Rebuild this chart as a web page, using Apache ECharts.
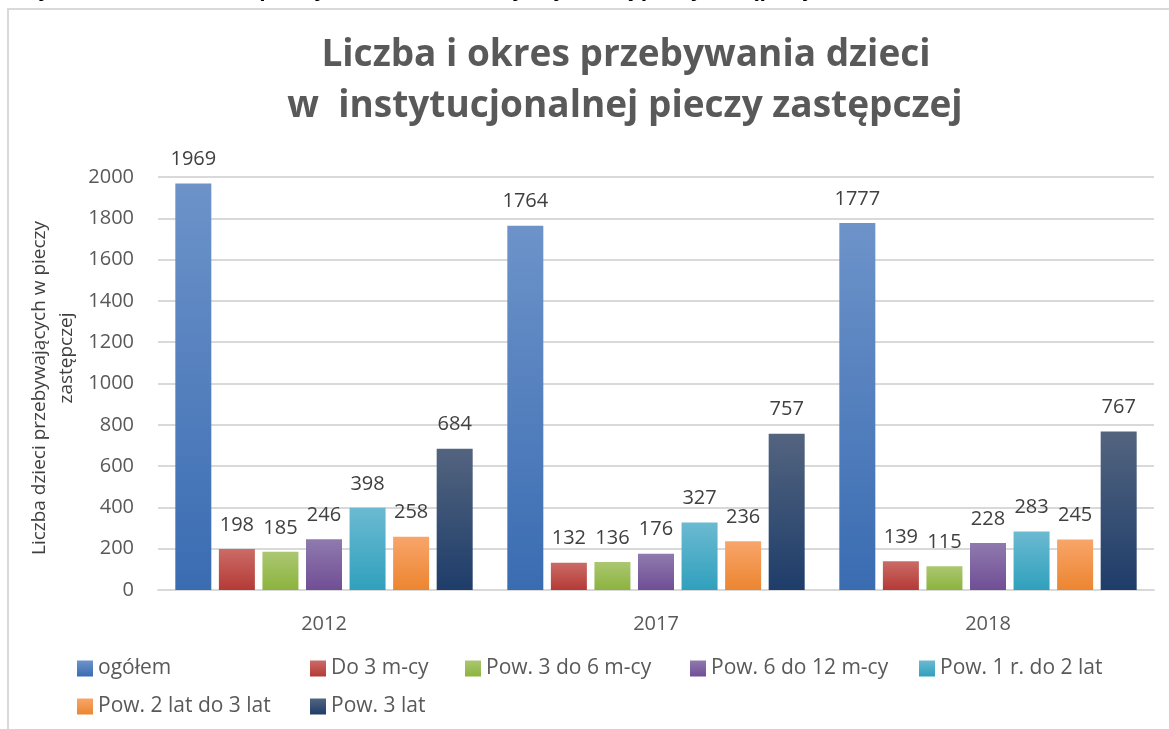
<!DOCTYPE html>
<html>
<head>
<meta charset="utf-8">
<title>Liczba i okres przebywania dzieci</title>
<script src="https://cdn.jsdelivr.net/npm/echarts@6/dist/echarts.min.js"></script>
<style>
  html, body { margin: 0; padding: 0; background: #fff; }
  #chart { width: 1169px; height: 729px; }
</style>
</head>
<body>
<div id="chart"></div>
<script>
// dane
var years = ['2012', '2017', '2018'];
var seriesNames = ['ogółem', 'Do 3 m-cy', 'Pow. 3 do 6 m-cy', 'Pow. 6 do 12 m-cy',
                   'Pow. 1 r. do 2 lat', 'Pow. 2 lat do 3 lat', 'Pow. 3 lat'];
var ogolem    = [1969, 1764, 1777];
var do3m      = [198, 132, 139];
var pow3do6   = [185, 136, 115];
var pow6do12  = [246, 176, 228];
var pow1do2   = [398, 327, 283];
var pow2do3   = [258, 236, 245];
var pow3lat   = [684, 757, 767];
var yTicks    = [0, 200, 400, 600, 800, 1000, 1200, 1400, 1600, 1800, 2000];

var values = [ogolem, do3m, pow3do6, pow6do12, pow1do2, pow2do3, pow3lat];

// kolory gradientu (góra, dół) jak w Excelu
var colors = [
  { a: '#6d93c9', b: '#3a6cb2' },
  { a: '#cb6b66', b: '#b43a36' },
  { a: '#abc771', b: '#8cb33e' },
  { a: '#8f7aae', b: '#704e95' },
  { a: '#6bbad1', b: '#30a0bd' },
  { a: '#f8a56a', b: '#ec8530' },
  { a: '#53647f', b: '#1e3d6a' }
];

// pozycje legendy (dwa wiersze jak w oryginale)
var legendPos = [[77, 658], [310, 658], [465, 658], [690, 658], [919, 658], [77, 696], [310, 696]];

var font = '"Open Sans", "Noto Sans", sans-serif';
var textColor = '#595959';

var myChart = echarts.init(document.getElementById('chart'));

var series = seriesNames.map(function (name, i) {
  return {
    name: name,
    type: 'bar',
    data: values[i],
    barWidth: 36,
    barGap: '21%',
    itemStyle: {
      color: new echarts.graphic.LinearGradient(0, 0, 0, 1, [
        { offset: 0, color: colors[i].a },
        { offset: 1, color: colors[i].b }
      ])
    },
    label: {
      show: true,
      position: 'top',
      distance: 14,
      fontFamily: font,
      fontSize: 20,
      color: '#404040'
    }
  };
});

var legends = seriesNames.map(function (name, i) {
  return {
    data: [name],
    left: legendPos[i][0],
    top: legendPos[i][1],
    padding: 0,
    icon: 'rect',
    itemWidth: 16,
    itemHeight: 16,
    selectedMode: false,
    textStyle: { fontFamily: font, fontSize: 21, color: textColor }
  };
});

var option = {
  animation: false,
  backgroundColor: '#fff',
  textStyle: { fontFamily: font },
  graphic: [
    // obcięty podpis nad wykresem
    {
      type: 'text', left: 22, top: -20, silent: true,
      style: {
        text: 'Wykres 6. Liczba i okres przebywania dzieci w instytucjonalnej pieczy zastępczej',
        font: 'italic bold 21px "Open Sans", sans-serif',
        fill: '#000'
      }
    },
    // ramka wykresu
    {
      type: 'polyline', silent: true,
      shape: { points: [[8, 729], [8, 9], [1169, 9]] },
      style: { stroke: '#d9d9d9', lineWidth: 2, fill: null }
    },
    {
      type: 'text', silent: true, x: 626, y: 55,
      style: {
        text: 'Liczba i okres przebywania dzieci',
        font: 'bold 37px "Open Sans", sans-serif',
        fill: textColor, align: 'center', verticalAlign: 'middle'
      }
    },
    {
      type: 'text', silent: true, x: 625, y: 106,
      style: {
        text: 'w  instytucjonalnej pieczy zastępczej',
        font: 'bold 37px "Open Sans", sans-serif',
        fill: textColor, align: 'center', verticalAlign: 'middle'
      }
    },
    {
      type: 'text', silent: true, x: 40, y: 388, rotation: Math.PI / 2,
      style: {
        text: 'Liczba dzieci przebywających w pieczy',
        font: '19px "Open Sans", sans-serif',
        fill: '#404040', align: 'center', verticalAlign: 'middle'
      }
    },
    {
      type: 'text', silent: true, x: 67, y: 358, rotation: Math.PI / 2,
      style: {
        text: 'zastępczej',
        font: '19px "Open Sans", sans-serif',
        fill: '#404040', align: 'center', verticalAlign: 'middle'
      }
    }
  ],
  legend: legends,
  grid: { left: 158, right: 15, top: 177, bottom: 139 },
  xAxis: {
    type: 'category',
    data: years,
    axisLine: { lineStyle: { color: '#d9d9d9', width: 2 } },
    axisTick: { show: false },
    axisLabel: { margin: 24, fontSize: 20, color: textColor, fontFamily: font }
  },
  yAxis: {
    type: 'value',
    min: yTicks[0],
    max: yTicks[yTicks.length - 1],
    interval: 200,
    axisLine: { show: false },
    axisTick: { show: false },
    splitLine: { lineStyle: { color: '#d9d9d9', width: 2 } },
    axisLabel: {
      margin: 24, fontSize: 20, color: textColor, fontFamily: font,
      formatter: function (v) { return String(v); }
    }
  },
  series: series
};

myChart.setOption(option);
</script>
</body>
</html>
